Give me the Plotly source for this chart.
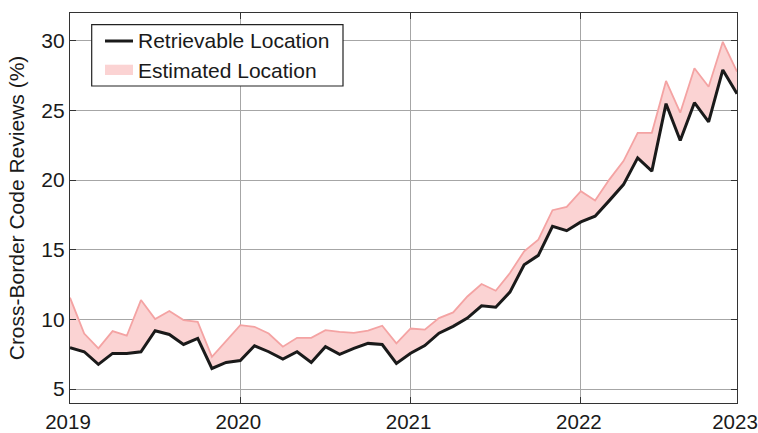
import plotly.graph_objects as go

months = [f"{y}-{m:02d}" for y in range(2019, 2023) for m in range(1, 13)]

retrievable = [
    7.97, 7.68, 6.77, 7.56, 7.56, 7.68, 9.19, 8.92, 8.20, 8.64, 6.48, 6.91,
    7.05, 8.11, 7.68, 7.15, 7.68, 6.91, 8.04, 7.49, 7.92, 8.28, 8.20, 6.84,
    7.57, 8.12, 9.01, 9.50, 10.10, 10.98, 10.88, 11.96, 13.93, 14.60, 16.69, 16.37,
    17.00, 17.41, 18.53, 19.68, 21.60, 20.65, 25.49, 22.85, 25.56, 24.19, 27.91, 26.21,
]
estimated = [
    11.56, 8.99, 7.92, 9.16, 8.83, 11.39, 10.02, 10.60, 9.95, 9.83, 7.32, 8.44,
    9.59, 9.47, 8.99, 8.04, 8.68, 8.68, 9.23, 9.11, 9.04, 9.19, 9.55, 8.28,
    9.35, 9.27, 10.10, 10.50, 11.65, 12.54, 12.06, 13.33, 14.89, 15.73, 17.84, 18.08,
    19.21, 18.53, 20.04, 21.37, 23.40, 23.40, 27.12, 24.84, 28.03, 26.71, 29.93, 27.79,
]

tick_months = ["2019-01", "2020-01", "2021-01", "2022-01", "2022-12"]
tick_labels = ["2019", "2020", "2021", "2022", "2023"]
y_ticks = [5, 10, 15, 20, 25, 30]
legend_labels = ["Retrievable Location", "Estimated Location"]

FONT = "Liberation Sans, Arial, Helvetica, sans-serif"
TXT = "#1a1a1a"
GRID = "#a6a6a6"
AX = "#333333"
LINE_BLACK = "#1a1a1a"
PINK_LINE = "#f4a3a3"
PINK_FILL = "#fbd3d3"

W, H = 758, 433
ML, MR, MT, MB = 70, 21, 13, 30
PW, PH = W - ML - MR, H - MT - MB


def px(x):
    return (x - ML) / PW


def py(y):
    return 1 - (y - MT) / PH


fig = go.Figure()
fig.add_trace(go.Scatter(
    x=months, y=retrievable, mode="lines", line=dict(width=0, color="rgba(0,0,0,0)"),
    showlegend=False, hoverinfo="skip"))
fig.add_trace(go.Scatter(
    x=months, y=estimated, mode="lines", fill="tonexty",
    fillcolor=PINK_FILL, line=dict(color=PINK_LINE, width=1.8),
    name=legend_labels[1], showlegend=False))
fig.add_trace(go.Scatter(
    x=months, y=retrievable, mode="lines", line=dict(color=LINE_BLACK, width=3),
    name=legend_labels[0], showlegend=False))

# legend box drawn in paper coordinates
shapes = [
    dict(type="rect", xref="paper", yref="paper",
         x0=px(91.7), x1=px(343), y0=py(86), y1=py(24.7),
         line=dict(color="#222222", width=1.2), fillcolor="white", layer="above"),
    dict(type="line", xref="paper", yref="paper",
         x0=px(105), x1=px(133), y0=py(41), y1=py(41),
         line=dict(color=LINE_BLACK, width=3), layer="above"),
    dict(type="rect", xref="paper", yref="paper",
         x0=px(105), x1=px(133), y0=py(75), y1=py(64.7),
         line=dict(width=0), fillcolor=PINK_FILL, layer="above"),
]
annotations = [
    dict(text=legend_labels[0], xref="paper", yref="paper", x=px(136), y=py(41),
         xanchor="left", yanchor="middle", showarrow=False,
         font=dict(size=21, color=TXT, family=FONT)),
    dict(text=legend_labels[1], xref="paper", yref="paper", x=px(136), y=py(70),
         xanchor="left", yanchor="middle", showarrow=False,
         font=dict(size=21, color=TXT, family=FONT)),
]

fig.update_layout(
    width=W, height=H,
    margin=dict(l=ML, r=MR, t=MT, b=MB, autoexpand=False),
    paper_bgcolor="white", plot_bgcolor="white",
    font=dict(family=FONT, size=21, color=TXT),
    showlegend=False, shapes=shapes, annotations=annotations,
)
fig.update_xaxes(
    type="category", range=[0, len(months) - 1],
    tickmode="array", tickvals=tick_months, ticktext=tick_labels,
    showgrid=True, gridcolor=GRID, gridwidth=1,
    showline=True, linecolor=AX, linewidth=1.2, mirror="allticks",
    ticks="inside", ticklen=6, tickcolor=AX, automargin=False,
    ticklabelshift=-2,
    tickfont=dict(size=20.5, color=TXT), zeroline=False,
)
fig.update_yaxes(
    range=[4, 32], tickmode="array", tickvals=y_ticks,
    showgrid=True, gridcolor=GRID, gridwidth=1,
    showline=True, linecolor=AX, linewidth=1.2, mirror="allticks",
    ticks="inside", ticklen=6, tickcolor=AX, automargin=False,
    tickfont=dict(size=21, color=TXT), zeroline=False,
    title=dict(text="Cross-Border Code Reviews (%)", font=dict(size=21, color=TXT), standoff=10),
)

fig.write_html("out.html")
